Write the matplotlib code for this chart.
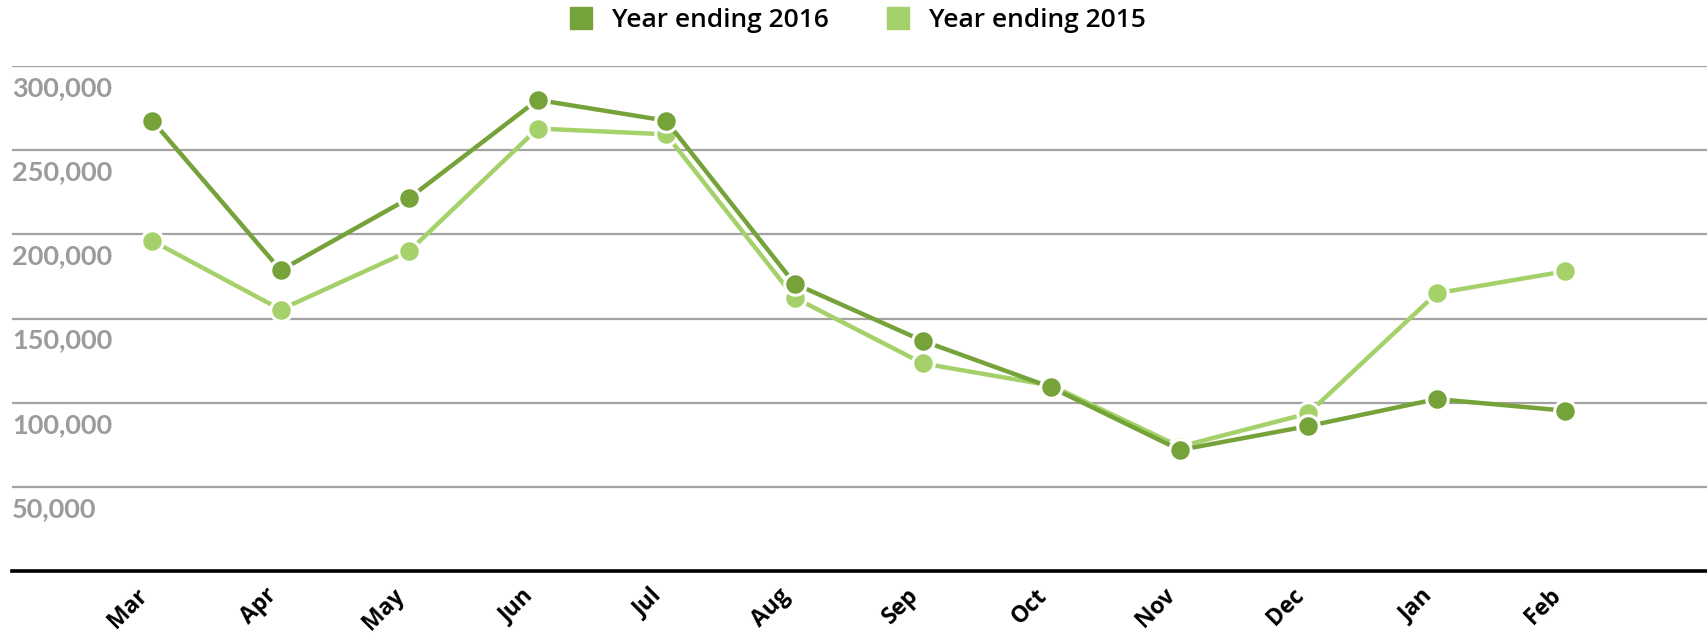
import matplotlib.pyplot as plt
import matplotlib.transforms as mtransforms
from matplotlib.lines import Line2D

months = ['Mar', 'Apr', 'May', 'Jun', 'Jul', 'Aug', 'Sep', 'Oct', 'Nov', 'Dec', 'Jan', 'Feb']
year_2016 = [267400, 178600, 221400, 279700, 267400, 170700, 136700, 109100, 72000, 86200, 102200, 95300]
year_2015 = [196100, 155300, 190000, 262700, 259300, 162400, 123300, 110200, 74000, 93700, 165000, 178000]
y_ticks = [50000, 100000, 150000, 200000, 250000, 300000]

dark = '#76a23a'
light = '#a5d16a'
grid_grey = '#a3a3a3'
label_grey = '#9b9b9b'

fig = plt.figure(figsize=(17.07, 6.33), dpi=100)
W, H = 1707, 633
# axes spans from the left margin to the right edge of the figure
ax = fig.add_axes([12 / W, 61.7 / H, 1 - 12 / W, (571.3 - 65.7) / H])

x = list(range(len(months)))
ax.plot(x, year_2015, color=light, lw=3.2, marker='o', ms=15.5, mfc=light,
        mec='white', mew=2.2, zorder=3, clip_on=False)
ax.plot(x, year_2016, color=dark, lw=3.2, marker='o', ms=15.5, mfc=dark,
        mec='white', mew=2.2, zorder=4, clip_on=False)

ax.set_xlim(-1.092, 12.104)
ax.set_ylim(0, 300000)

# horizontal gridlines only
ax.set_yticks(y_ticks)
ax.set_yticklabels([])
ax.tick_params(axis='y', length=0)
ax.yaxis.grid(True, color=grid_grey, lw=1.6)
ax.set_axisbelow(True)

for s in ['top', 'left', 'right']:
    ax.spines[s].set_visible(False)
ax.spines['bottom'].set_color('black')
ax.spines['bottom'].set_linewidth(2.6)

# y labels sit just under each gridline, inside the plot
trans = mtransforms.blended_transform_factory(ax.transAxes, ax.transData)
trans = mtransforms.offset_copy(trans, fig=fig, x=0, y=-10, units='dots')
for v in y_ticks:
    ax.text(0, v, '{:,}'.format(v), transform=trans, ha='left', va='top',
            fontsize=19.5, color=label_grey, family='Lato', fontweight='bold')

ax.set_xticks(x)
ax.set_xticklabels(months, rotation=45, ha='right', va='center',
                   rotation_mode='anchor', family='Open Sans',
                   fontweight='bold', fontsize=16.5, color='black')
ax.tick_params(axis='x', length=0, pad=15)
# nudge the slanted month names a little to the left
shift = mtransforms.ScaledTranslation(-8 / 100, 0, fig.dpi_scale_trans)
for lbl in ax.get_xticklabels():
    lbl.set_transform(lbl.get_transform() + shift)

handles = [Line2D([], [], ls='', marker='s', ms=16.5, color=dark),
           Line2D([], [], ls='', marker='s', ms=16.5, color=light)]
fig.legend(handles, ['Year ending 2016', 'Year ending 2015'], loc='upper center',
           bbox_to_anchor=(0.502, 1.025), ncol=2, frameon=False,
           prop={'family': 'Open Sans', 'size': 19, 'weight': 'semibold'},
           handletextpad=0.7, columnspacing=2.1, handlelength=1.0)

fig.savefig('out.png', dpi=100)
